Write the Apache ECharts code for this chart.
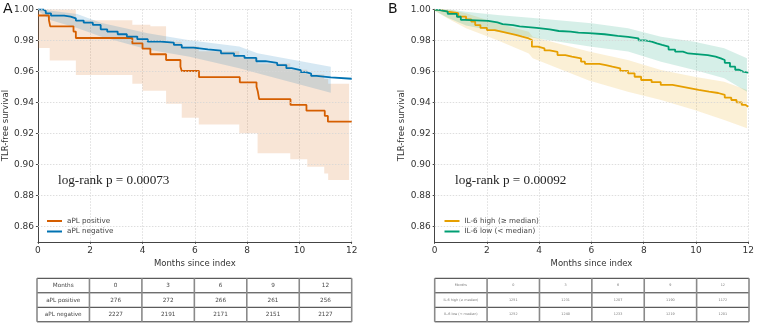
<!DOCTYPE html>
<html><head><meta charset="utf-8">
<script src="https://cdn.jsdelivr.net/npm/echarts@6/dist/echarts.min.js"></script>
<style>html,body{margin:0;padding:0;background:#fff;}#c{width:757px;height:325px;}</style>
</head><body><div id="c"></div>
<script>
// ---------- DATA ----------
const xTicks = [0, 2, 4, 6, 8, 10, 12];
const yTicks = [0.86, 0.88, 0.90, 0.92, 0.94, 0.96, 0.98, 1.00];

// Panel A: aPL
const aplPosName = 'aPL positive';
const aplNegName = 'aPL negative';
const aplPos = [[0,0.996],[0.42,0.993],[0.47,0.989],[1.36,0.9856],[1.45,0.9815],[3.61,0.978],[4.0,0.9746],[4.3,0.971],[4.9,0.9673],[5.45,0.963],[5.5,0.9602],[6.16,0.9562],[7.72,0.9529],[8.36,0.95],[8.41,0.9469],[8.46,0.942],[9.66,0.9383],[10.27,0.9346],[10.97,0.9312],[11.09,0.9275],[12,0.9275]];
const aplNeg = [[0,1.0],[0.2,0.9989],[0.3,0.9974],[0.5,0.9959],[1.0,0.9953],[1.25,0.9942],[1.45,0.9927],[1.75,0.9914],[2.1,0.9899],[2.4,0.9871],[2.65,0.9856],[3.05,0.9839],[3.4,0.9824],[3.8,0.9807],[4.2,0.9791],[4.7,0.9785],[5.2,0.977],[5.5,0.9753],[5.95,0.9742],[6.5,0.9733],[7.0,0.9716],[7.5,0.9699],[7.9,0.9686],[8.35,0.9665],[8.7,0.9655],[9.15,0.964],[9.5,0.962],[9.7,0.9608],[10.05,0.9595],[10.25,0.9585],[10.45,0.957],[10.65,0.9561],[11.2,0.9552],[12,0.9552]];
// step CI band for aPL positive: edges, upper, lower
const aplPosBandX  = [0,0.45,1.45,2.4,3.61,4.0,4.3,4.9,5.5,6.15,7.7,8.4,9.65,10.3,10.95,11.1,11.9];
const aplPosBandHi = [1.0,1.0,0.993,0.993,0.990,0.990,0.989,0.979,0.976,0.973,0.969,0.965,0.961,0.958,0.955,0.952];
const aplPosBandLo = [0.975,0.967,0.9576,0.9576,0.952,0.9475,0.9475,0.939,0.930,0.9257,0.920,0.9071,0.9032,0.8985,0.894,0.8898];
// smooth CI band for aPL negative
const aplNegBandX  = [0,0.5,1.5,2.4,4.2,5.8,7.7,8.4,11.2];
const aplNegBandHi = [1.0,0.999,0.997,0.9914,0.9845,0.980,0.976,0.9716,0.963];
const aplNegBandLo = [0.999,0.993,0.988,0.9824,0.974,0.9694,0.962,0.9587,0.9462];

// Panel B: IL-6
const ilHighName = 'IL-6 high (\u2265 median)';
const ilLowName = 'IL-6 low (< median)';
const ilHigh = [[0,0.9996],[0.2,0.9985],[0.5,0.9975],[0.9,0.9953],[1.2,0.9935],[1.4,0.992],[1.55,0.9898],[1.75,0.988],[2.0,0.9866],[2.3,0.9855],[2.6,0.9845],[2.85,0.9835],[3.1,0.9823],[3.35,0.9812],[3.6,0.9802],[3.72,0.9759],[3.95,0.9748],[4.2,0.9735],[4.4,0.9725],[4.7,0.9705],[5.0,0.9695],[5.25,0.9684],[5.6,0.9662],[5.75,0.9648],[6.3,0.964],[6.55,0.963],[6.8,0.9619],[7.1,0.9603],[7.4,0.9587],[7.65,0.9565],[7.9,0.9544],[8.3,0.953],[8.65,0.9512],[9.1,0.95],[9.5,0.949],[9.8,0.948],[10.1,0.9469],[10.5,0.946],[10.85,0.9448],[11.1,0.943],[11.35,0.9415],[11.55,0.94],[11.75,0.9383],[11.9,0.9372],[12,0.9368]];
const ilLow = [[0,0.9996],[0.15,0.9985],[0.5,0.997],[0.85,0.9952],[1.0,0.9932],[1.15,0.9925],[2.05,0.9916],[2.4,0.9905],[2.6,0.9898],[3.0,0.989],[3.25,0.988],[3.9,0.987],[4.4,0.986],[4.75,0.9856],[5.2,0.985],[5.5,0.9846],[5.9,0.9839],[6.5,0.9828],[7.0,0.9822],[7.4,0.9813],[7.8,0.98],[8.05,0.9791],[8.3,0.978],[8.5,0.977],[8.7,0.9759],[8.95,0.974],[9.2,0.9727],[9.5,0.9715],[9.7,0.9705],[10.45,0.9694],[10.75,0.9683],[10.95,0.9673],[11.1,0.9655],[11.3,0.963],[11.5,0.961],[11.65,0.9598],[11.8,0.9591],[12,0.9591]];
const ilHighBandX  = [0,0.5,1.2,2.4,3.6,3.75,5.9,7.39,8.66,9.94,11.08,11.95];
const ilHighBandHi = [1.0,1.0,0.9975,0.991,0.9855,0.9823,0.9727,0.9673,0.9608,0.9565,0.9533,0.948];
const ilHighBandLo = [0.999,0.994,0.9877,0.980,0.9715,0.9684,0.954,0.9468,0.9415,0.935,0.9286,0.9232];
const ilLowBandX  = [0,0.5,1.2,2.4,4.0,6.0,7.4,8.66,9.94,11.08,11.95];
const ilLowBandHi = [1.0,1.0,0.9985,0.9963,0.994,0.991,0.9877,0.9823,0.979,0.9748,0.9684];
const ilLowBandLo = [0.999,0.9945,0.9895,0.9855,0.981,0.9759,0.9727,0.9662,0.9608,0.9555,0.9468];

const pTextA = 'log-rank p = 0.00073';
const pTextB = 'log-rank p = 0.00092';

// risk tables
const tableMonths = ['Months', '0', '3', '6', '9', '12'];
const tableA_pos = ['aPL positive', '276', '272', '266', '261', '256'];
const tableA_neg = ['aPL negative', '2227', '2191', '2171', '2151', '2127'];
const tableB_high = ['IL-6 high (\u2265 median)', '1251', '1231', '1207', '1190', '1172'];
const tableB_low = ['IL-6 low (< median)', '1252', '1240', '1233', '1219', '1201'];

// ---------- STYLE / LAYOUT ----------
const C_ORANGE = '#D55E00', C_BLUE = '#0072B2', C_YELLOW = '#E69F00', C_GREEN = '#009E73';
const grids = [
  {left: 37, top: 9.3, width: 314.7, height: 232.5},
  {left: 434.7, top: 9.3, width: 314.3, height: 232.5}
];
const FONT = 'DejaVu Sans';

function hexA(hex, a) {
  const r = parseInt(hex.slice(1,3),16), g = parseInt(hex.slice(3,5),16), b = parseInt(hex.slice(5,7),16);
  return 'rgba(' + r + ',' + g + ',' + b + ',' + a + ')';
}

function band(idx, xs, hi, lo, color, step) {
  return {
    type: 'custom', xAxisIndex: idx, yAxisIndex: idx, silent: true, clip: true, z: 1,
    data: [[xs[0], hi[0]]],
    renderItem: function (params, api) {
      const pts = [];
      if (step) {
        for (let i = 0; i < hi.length; i++) { pts.push(api.coord([xs[i], hi[i]])); pts.push(api.coord([xs[i+1], hi[i]])); }
        for (let i = lo.length - 1; i >= 0; i--) { pts.push(api.coord([xs[i+1], lo[i]])); pts.push(api.coord([xs[i], lo[i]])); }
      } else {
        for (let i = 0; i < xs.length; i++) pts.push(api.coord([xs[i], hi[i]]));
        for (let i = xs.length - 1; i >= 0; i--) pts.push(api.coord([xs[i], lo[i]]));
      }
      return {type: 'polygon', shape: {points: pts}, style: {fill: hexA(color, 0.16)}};
    }
  };
}

function km(idx, name, data, color) {
  return {type: 'line', name: name, xAxisIndex: idx, yAxisIndex: idx, data: data, step: 'end',
    showSymbol: false, symbol: 'none', z: 3, silent: true,
    lineStyle: {color: color, width: 1.8}, itemStyle: {color: color}};
}

function gridLines(idx) {
  return {type: 'line', xAxisIndex: idx, yAxisIndex: idx, data: [], silent: true, z: 0,
    markLine: {silent: true, symbol: 'none', label: {show: false}, animation: false,
      lineStyle: {color: '#d6d6d6', type: [1.5, 1.5], width: 0.8},
      data: yTicks.map(v => ({yAxis: v}))}};
}

function xAxis(idx) {
  return {type: 'value', gridIndex: idx, min: 0, max: 12, interval: 2,
    name: 'Months since index', nameLocation: 'middle', nameGap: 14,
    nameTextStyle: {fontFamily: FONT, fontSize: 8.5, color: '#333'},
    axisLine: {show: true, lineStyle: {color: '#444', width: 1}},
    axisTick: {show: true, length: 2, lineStyle: {color: '#444'}},
    axisLabel: {fontFamily: FONT, fontSize: 9, color: '#333', margin: 4},
    splitLine: {show: true, lineStyle: {color: '#d6d6d6', type: [1.5, 1.5], width: 0.8}}};
}
function yAxis(idx) {
  return {type: 'value', gridIndex: idx, min: 0.85, max: 1.0,
    name: 'TLR-free survival', nameLocation: 'middle', nameGap: 27, nameRotate: 90,
    nameTextStyle: {fontFamily: FONT, fontSize: 8.5, color: '#333'},
    axisLine: {show: true, lineStyle: {color: '#444', width: 1}},
    axisTick: {show: true, length: 2, customValues: yTicks, lineStyle: {color: '#444'}},
    axisLabel: {fontFamily: FONT, fontSize: 9, color: '#333', margin: 4, customValues: yTicks,
      formatter: v => v.toFixed(2)},
    splitLine: {show: false}};
}

function table(g, rows, fontSize, textColor) {
  const els = [];
  const top = 278.3, rowH = 14.5;
  const colW = g.width / rows[0].length;
  const bottom = top + rowH * rows.length;
  rows.forEach((row, r) => {
    row.forEach((cell, c) => {
      els.push({type: 'text', x: g.left + colW * (c + 0.5), y: top + rowH * (r + 0.5),
        style: {text: cell, fontFamily: FONT, fontSize: fontSize, fill: textColor, align: 'center', verticalAlign: 'middle'}});
    });
  });
  for (let r = 0; r <= rows.length; r++) {
    els.push({type: 'line', shape: {x1: g.left, y1: top + rowH * r, x2: g.left + g.width, y2: top + rowH * r},
      style: {stroke: '#333', lineWidth: 1}});
  }
  for (let c = 0; c <= rows[0].length; c++) {
    els.push({type: 'line', shape: {x1: g.left + colW * c, y1: top, x2: g.left + colW * c, y2: bottom},
      style: {stroke: '#8a8a8a', lineWidth: 1.6}});
  }
  return els;
}

const chart = echarts.init(document.getElementById('c'), null, {renderer: 'canvas'});
const graphics = [
  {type: 'text', x: 3, y: 2, style: {text: 'A', fontFamily: FONT, fontSize: 14, fill: '#111'}},
  {type: 'text', x: 388, y: 2, style: {text: 'B', fontFamily: FONT, fontSize: 14, fill: '#111'}},
  {type: 'text', x: 58, y: 181, z: 10, style: {text: pTextA, fontFamily: 'Liberation Serif', fontSize: 13.2, fill: '#222', verticalAlign: 'middle'}},
  {type: 'text', x: 455, y: 181, z: 10, style: {text: pTextB, fontFamily: 'Liberation Serif', fontSize: 13.2, fill: '#222', verticalAlign: 'middle'}}
].concat(table(grids[0], [tableMonths, tableA_pos, tableA_neg], 5.7, '#444'))
 .concat(table(grids[1], [tableMonths, tableB_high, tableB_low], 3.4, '#777'));

chart.setOption({
  animation: false,
  backgroundColor: '#fff',
  grid: grids,
  xAxis: [xAxis(0), xAxis(1)],
  yAxis: [yAxis(0), yAxis(1)],
  legend: [
    {data: [aplPosName, aplNegName], orient: 'vertical', left: 42, top: 212, icon: 'rect', itemWidth: 15, itemHeight: 2,
      itemGap: 2.5, textStyle: {fontFamily: FONT, fontSize: 7.2, color: '#444', lineHeight: 8}, selectedMode: false},
    {data: [ilHighName, ilLowName], orient: 'vertical', left: 439.5, top: 212, icon: 'rect', itemWidth: 15, itemHeight: 2,
      itemGap: 2.5, textStyle: {fontFamily: FONT, fontSize: 7.2, color: '#444', lineHeight: 8}, selectedMode: false}
  ],
  series: [
    gridLines(0), gridLines(1),
    band(0, aplPosBandX, aplPosBandHi, aplPosBandLo, C_ORANGE, true),
    band(0, aplNegBandX, aplNegBandHi, aplNegBandLo, C_BLUE, false),
    km(0, aplPosName, aplPos, C_ORANGE),
    km(0, aplNegName, aplNeg, C_BLUE),
    band(1, ilHighBandX, ilHighBandHi, ilHighBandLo, C_YELLOW, false),
    band(1, ilLowBandX, ilLowBandHi, ilLowBandLo, C_GREEN, false),
    km(1, ilHighName, ilHigh, C_YELLOW),
    km(1, ilLowName, ilLow, C_GREEN)
  ],
  graphic: graphics
});
</script></body></html>
